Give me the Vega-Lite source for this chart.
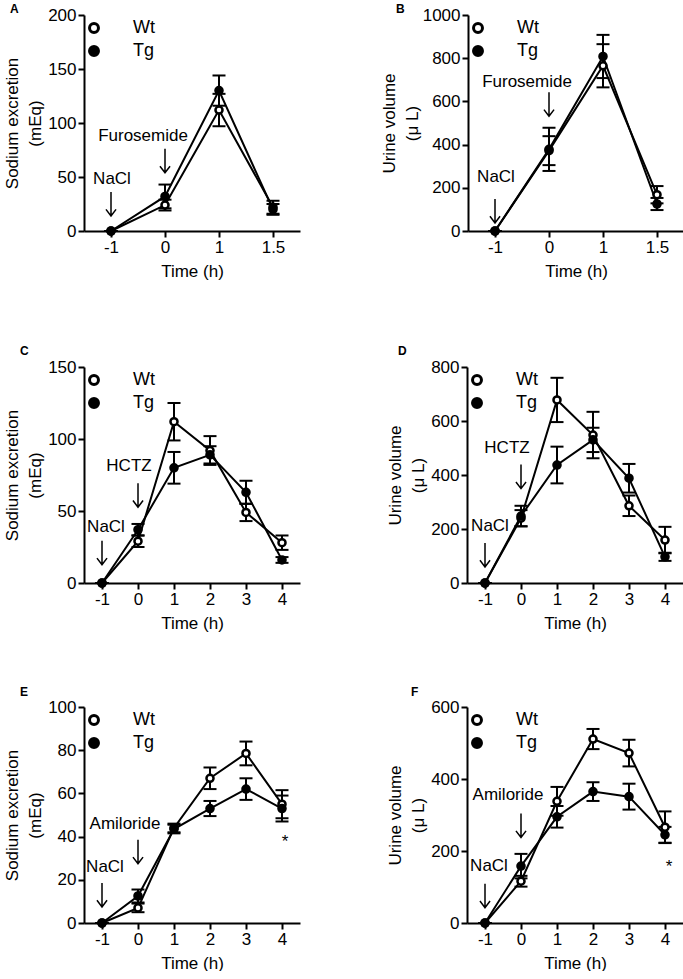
{
  "$schema": "https://vega.github.io/schema/vega-lite/v6.json",
  "padding": {"left": 3, "top": 3, "right": 0, "bottom": 0},
  "background": "white",
  "datasets": {
    "series": [
      {"panel":"A","group":"Wt","time":"-1","value":0,"sem":0},
      {"panel":"A","group":"Wt","time":"0","value":24,"sem":5},
      {"panel":"A","group":"Wt","time":"1","value":112,"sem":15},
      {"panel":"A","group":"Wt","time":"1.5","value":22,"sem":6},
      {"panel":"A","group":"Tg","time":"-1","value":0,"sem":0},
      {"panel":"A","group":"Tg","time":"0","value":32,"sem":11},
      {"panel":"A","group":"Tg","time":"1","value":130,"sem":14},
      {"panel":"A","group":"Tg","time":"1.5","value":20,"sem":5},
      {"panel":"B","group":"Wt","time":"-1","value":0,"sem":0},
      {"panel":"B","group":"Wt","time":"0","value":372,"sem":67},
      {"panel":"B","group":"Wt","time":"1","value":765,"sem":100},
      {"panel":"B","group":"Wt","time":"1.5","value":168,"sem":40},
      {"panel":"B","group":"Tg","time":"-1","value":0,"sem":0},
      {"panel":"B","group":"Tg","time":"0","value":378,"sem":100},
      {"panel":"B","group":"Tg","time":"1","value":808,"sem":100},
      {"panel":"B","group":"Tg","time":"1.5","value":125,"sem":28},
      {"panel":"C","group":"Wt","time":"-1","value":0,"sem":0},
      {"panel":"C","group":"Wt","time":"0","value":29,"sem":4},
      {"panel":"C","group":"Wt","time":"1","value":112,"sem":13},
      {"panel":"C","group":"Wt","time":"2","value":92,"sem":10},
      {"panel":"C","group":"Wt","time":"3","value":49,"sem":6},
      {"panel":"C","group":"Wt","time":"4","value":28,"sem":5},
      {"panel":"C","group":"Tg","time":"-1","value":0,"sem":0},
      {"panel":"C","group":"Tg","time":"0","value":37,"sem":4},
      {"panel":"C","group":"Tg","time":"1","value":80,"sem":11},
      {"panel":"C","group":"Tg","time":"2","value":89,"sem":6},
      {"panel":"C","group":"Tg","time":"3","value":63,"sem":8},
      {"panel":"C","group":"Tg","time":"4","value":16,"sem":2},
      {"panel":"D","group":"Wt","time":"-1","value":0,"sem":0},
      {"panel":"D","group":"Wt","time":"0","value":240,"sem":30},
      {"panel":"D","group":"Wt","time":"1","value":678,"sem":82},
      {"panel":"D","group":"Wt","time":"2","value":548,"sem":86},
      {"panel":"D","group":"Wt","time":"3","value":286,"sem":38},
      {"panel":"D","group":"Wt","time":"4","value":159,"sem":49},
      {"panel":"D","group":"Tg","time":"-1","value":0,"sem":0},
      {"panel":"D","group":"Tg","time":"0","value":248,"sem":38},
      {"panel":"D","group":"Tg","time":"1","value":437,"sem":68},
      {"panel":"D","group":"Tg","time":"2","value":530,"sem":45},
      {"panel":"D","group":"Tg","time":"3","value":388,"sem":53},
      {"panel":"D","group":"Tg","time":"4","value":97,"sem":15},
      {"panel":"E","group":"Wt","time":"-1","value":0,"sem":0},
      {"panel":"E","group":"Wt","time":"0","value":7,"sem":2},
      {"panel":"E","group":"Wt","time":"1","value":44,"sem":2},
      {"panel":"E","group":"Wt","time":"2","value":67,"sem":5},
      {"panel":"E","group":"Wt","time":"3","value":78.5,"sem":5.5},
      {"panel":"E","group":"Wt","time":"4","value":55,"sem":6.5},
      {"panel":"E","group":"Tg","time":"-1","value":0,"sem":0},
      {"panel":"E","group":"Tg","time":"0","value":12.5,"sem":3},
      {"panel":"E","group":"Tg","time":"1","value":43.5,"sem":2},
      {"panel":"E","group":"Tg","time":"2","value":53,"sem":3.5},
      {"panel":"E","group":"Tg","time":"3","value":62,"sem":5},
      {"panel":"E","group":"Tg","time":"4","value":53,"sem":6},
      {"panel":"F","group":"Wt","time":"-1","value":0,"sem":0},
      {"panel":"F","group":"Wt","time":"0","value":116,"sem":15},
      {"panel":"F","group":"Wt","time":"1","value":338,"sem":40},
      {"panel":"F","group":"Wt","time":"2","value":511,"sem":28},
      {"panel":"F","group":"Wt","time":"3","value":472,"sem":37},
      {"panel":"F","group":"Wt","time":"4","value":266,"sem":44},
      {"panel":"F","group":"Tg","time":"-1","value":0,"sem":0},
      {"panel":"F","group":"Tg","time":"0","value":158,"sem":34},
      {"panel":"F","group":"Tg","time":"1","value":295,"sem":30},
      {"panel":"F","group":"Tg","time":"2","value":365,"sem":26},
      {"panel":"F","group":"Tg","time":"3","value":351,"sem":36},
      {"panel":"F","group":"Tg","time":"4","value":245,"sem":22}
    ],
    "notes": [
      {"panel":"A","kind":"salt","time":"-1","value":48,"label":"NaCl"},
      {"panel":"A","kind":"drug","time":"0","value":88,"label":"Furosemide"},
      {"panel":"B","kind":"salt","time":"-1","value":252,"label":"NaCl"},
      {"panel":"B","kind":"drug","time":"0","value":688,"label":"Furosemide"},
      {"panel":"C","kind":"salt","time":"-1","value":39,"label":"NaCl"},
      {"panel":"C","kind":"drug","time":"0","value":81,"label":"HCTZ"},
      {"panel":"D","kind":"salt","time":"-1","value":211,"label":"NaCl"},
      {"panel":"D","kind":"drug","time":"0","value":499,"label":"HCTZ"},
      {"panel":"E","kind":"salt","time":"-1","value":26,"label":"NaCl"},
      {"panel":"E","kind":"drug","time":"0","value":46,"label":"Amiloride"},
      {"panel":"E","kind":"star","time":"4","value":37.5,"label":"*"},
      {"panel":"F","kind":"salt","time":"-1","value":158,"label":"NaCl"},
      {"panel":"F","kind":"drug","time":"0","value":355,"label":"Amiloride"},
      {"panel":"F","kind":"star","time":"4","value":156,"label":"*"}
    ],
    "arrows": [
      {"panel":"A","time":"-1","value":25},
      {"panel":"A","time":"0","value":65},
      {"panel":"B","time":"-1","value":93},
      {"panel":"B","time":"0","value":587},
      {"panel":"C","time":"-1","value":21},
      {"panel":"C","time":"0","value":61},
      {"panel":"D","time":"-1","value":104},
      {"panel":"D","time":"0","value":394},
      {"panel":"E","time":"-1","value":13},
      {"panel":"E","time":"0","value":33},
      {"panel":"F","time":"-1","value":76},
      {"panel":"F","time":"0","value":271}
    ]
  },
  "bounds": "flush",
  "spacing": 352,
  "resolve": {"scale": {"x": "independent", "y": "independent", "fill": "independent"}, "legend": {"fill": "independent"}, "axis": {"x": "independent", "y": "independent"}},
  "vconcat": [
    {
      "hconcat": [
        {
          "width": 216, "height": 216,
          "title": {"text": "A", "dx": -74, "offset": -10},
          "encoding": {
            "x": {"field": "time", "type": "ordinal", "scale": {"type": "point", "domain": ["-1","0","1","1.5"], "padding": 0.5}, "axis": {"title": "Time (h)"}},
            "y": {"field": "value", "type": "quantitative", "scale": {"domain": [0, 200], "nice": false}, "axis": {"title": ["Sodium excretion", "(mEq)"], "values": [0, 50, 100, 150, 200], "format": "d"}}
          },
          "layer": [
            {"data": {"name": "series"}, "transform": [{"filter": "datum.panel === 'A'"}], "mark": {"type": "line", "color": "black", "strokeWidth": 2}, "encoding": {"detail": {"field": "group"}}},
            {"data": {"name": "series"}, "transform": [{"filter": "datum.panel === 'A'"}], "mark": {"type": "errorbar", "color": "black", "opacity": 1, "ticks": {"opacity": 1, "color": "black"}, "size": 13, "thickness": 2}, "encoding": {"yError": {"field": "sem"}, "detail": {"field": "group"}}},
            {"data": {"name": "series"}, "transform": [{"filter": "datum.panel === 'A'"}], "mark": {"type": "point", "shape": "circle", "filled": true, "size": 50, "stroke": "black", "strokeWidth": 2.5, "opacity": 1}, "encoding": {"fill": {"field": "group", "type": "nominal", "scale": {"domain": ["Wt", "Tg"], "range": ["white", "black"]}, "legend": {"title": null, "orient": "none", "legendX": 1, "legendY": 4, "labelFontSize": 18, "symbolSize": 80, "symbolStrokeWidth": 3, "symbolStrokeColor": "black", "symbolType": "circle", "labelOffset": 30, "rowPadding": 1, "padding": 0}}}},
            {"data": {"name": "notes"}, "transform": [{"filter": "datum.panel === 'A' && datum.kind !== 'drug'"}], "mark": {"type": "text", "fontSize": 17, "color": "black", "dx": 1}, "encoding": {"text": {"field": "label"}}},
            {"data": {"name": "notes"}, "transform": [{"filter": "datum.panel === 'A' && datum.kind === 'drug'"}], "mark": {"type": "text", "fontSize": 17, "color": "black", "dx": -22}, "encoding": {"text": {"field": "label"}}},
            {"data": {"name": "arrows"}, "transform": [{"filter": "datum.panel === 'A'"}], "mark": {"type": "point", "shape": "M0,-1L0,1M-0.42,0.45L0,1L0.42,0.45", "size": 576, "filled": false, "stroke": "black", "strokeWidth": 1.5, "opacity": 1}, "encoding": {}}
          ]
        },
        {
          "width": 216, "height": 216,
          "title": {"text": "B", "dx": -72, "offset": -10},
          "encoding": {
            "x": {"field": "time", "type": "ordinal", "scale": {"type": "point", "domain": ["-1","0","1","1.5"], "padding": 0.5}, "axis": {"title": "Time (h)"}},
            "y": {"field": "value", "type": "quantitative", "scale": {"domain": [0, 1000], "nice": false}, "axis": {"title": ["Urine volume", "(μ L)"], "values": [0, 200, 400, 600, 800, 1000], "format": "d", "titlePadding": 1}}
          },
          "layer": [
            {"data": {"name": "series"}, "transform": [{"filter": "datum.panel === 'B'"}], "mark": {"type": "line", "color": "black", "strokeWidth": 2}, "encoding": {"detail": {"field": "group"}}},
            {"data": {"name": "series"}, "transform": [{"filter": "datum.panel === 'B'"}], "mark": {"type": "errorbar", "color": "black", "opacity": 1, "ticks": {"opacity": 1, "color": "black"}, "size": 13, "thickness": 2}, "encoding": {"yError": {"field": "sem"}, "detail": {"field": "group"}}},
            {"data": {"name": "series"}, "transform": [{"filter": "datum.panel === 'B'"}], "mark": {"type": "point", "shape": "circle", "filled": true, "size": 50, "stroke": "black", "strokeWidth": 2.5, "opacity": 1}, "encoding": {"fill": {"field": "group", "type": "nominal", "scale": {"domain": ["Wt", "Tg"], "range": ["white", "black"]}, "legend": {"title": null, "orient": "none", "legendX": 1, "legendY": 4, "labelFontSize": 18, "symbolSize": 80, "symbolStrokeWidth": 3, "symbolStrokeColor": "black", "symbolType": "circle", "labelOffset": 30, "rowPadding": 1, "padding": 0}}}},
            {"data": {"name": "notes"}, "transform": [{"filter": "datum.panel === 'B' && datum.kind !== 'drug'"}], "mark": {"type": "text", "fontSize": 17, "color": "black", "dx": 1}, "encoding": {"text": {"field": "label"}}},
            {"data": {"name": "notes"}, "transform": [{"filter": "datum.panel === 'B' && datum.kind === 'drug'"}], "mark": {"type": "text", "fontSize": 17, "color": "black", "dx": -22}, "encoding": {"text": {"field": "label"}}},
            {"data": {"name": "arrows"}, "transform": [{"filter": "datum.panel === 'B'"}], "mark": {"type": "point", "shape": "M0,-1L0,1M-0.42,0.45L0,1L0.42,0.45", "size": 576, "filled": false, "stroke": "black", "strokeWidth": 1.5, "opacity": 1}, "encoding": {}}
          ]
        }
      ],
      "spacing": 168,
      "bounds": "flush",
      "resolve": {"scale": {"x": "independent", "y": "independent", "fill": "independent"}, "legend": {"fill": "independent"}, "axis": {"x": "independent", "y": "independent"}}
    },
    {
      "vconcat": [
        {
          "hconcat": [
            {
              "width": 216, "height": 216,
              "title": {"text": "C", "dx": -64, "offset": 0},
              "encoding": {
                "x": {"field": "time", "type": "ordinal", "scale": {"type": "point", "domain": ["-1","0","1","2","3","4"], "padding": 0.5}, "axis": {"title": "Time (h)"}},
                "y": {"field": "value", "type": "quantitative", "scale": {"domain": [0, 150], "nice": false}, "axis": {"title": ["Sodium excretion", "(mEq)"], "values": [0, 50, 100, 150], "format": "d"}}
              },
              "layer": [
                {"data": {"name": "series"}, "transform": [{"filter": "datum.panel === 'C'"}], "mark": {"type": "line", "color": "black", "strokeWidth": 2}, "encoding": {"detail": {"field": "group"}}},
                {"data": {"name": "series"}, "transform": [{"filter": "datum.panel === 'C'"}], "mark": {"type": "errorbar", "color": "black", "opacity": 1, "ticks": {"opacity": 1, "color": "black"}, "size": 13, "thickness": 2}, "encoding": {"yError": {"field": "sem"}, "detail": {"field": "group"}}},
                {"data": {"name": "series"}, "transform": [{"filter": "datum.panel === 'C'"}], "mark": {"type": "point", "shape": "circle", "filled": true, "size": 50, "stroke": "black", "strokeWidth": 2.5, "opacity": 1}, "encoding": {"fill": {"field": "group", "type": "nominal", "scale": {"domain": ["Wt", "Tg"], "range": ["white", "black"]}, "legend": {"title": null, "orient": "none", "legendX": 1, "legendY": 4, "labelFontSize": 18, "symbolSize": 80, "symbolStrokeWidth": 3, "symbolStrokeColor": "black", "symbolType": "circle", "labelOffset": 30, "rowPadding": 1, "padding": 0}}}},
                {"data": {"name": "notes"}, "transform": [{"filter": "datum.panel === 'C' && datum.kind !== 'drug'"}], "mark": {"type": "text", "fontSize": 17, "color": "black", "dx": 4}, "encoding": {"text": {"field": "label"}}},
                {"data": {"name": "notes"}, "transform": [{"filter": "datum.panel === 'C' && datum.kind === 'drug'"}], "mark": {"type": "text", "fontSize": 17, "color": "black", "dx": -9}, "encoding": {"text": {"field": "label"}}},
                {"data": {"name": "arrows"}, "transform": [{"filter": "datum.panel === 'C'"}], "mark": {"type": "point", "shape": "M0,-1L0,1M-0.42,0.45L0,1L0.42,0.45", "size": 576, "filled": false, "stroke": "black", "strokeWidth": 1.5, "opacity": 1}, "encoding": {}}
              ]
            },
            {
              "width": 216, "height": 216,
              "title": {"text": "D", "dx": -69, "offset": 0},
              "encoding": {
                "x": {"field": "time", "type": "ordinal", "scale": {"type": "point", "domain": ["-1","0","1","2","3","4"], "padding": 0.5}, "axis": {"title": "Time (h)"}},
                "y": {"field": "value", "type": "quantitative", "scale": {"domain": [0, 800], "nice": false}, "axis": {"title": ["Urine volume", "(μ L)"], "values": [0, 200, 400, 600, 800], "format": "d"}}
              },
              "layer": [
                {"data": {"name": "series"}, "transform": [{"filter": "datum.panel === 'D'"}], "mark": {"type": "line", "color": "black", "strokeWidth": 2}, "encoding": {"detail": {"field": "group"}}},
                {"data": {"name": "series"}, "transform": [{"filter": "datum.panel === 'D'"}], "mark": {"type": "errorbar", "color": "black", "opacity": 1, "ticks": {"opacity": 1, "color": "black"}, "size": 13, "thickness": 2}, "encoding": {"yError": {"field": "sem"}, "detail": {"field": "group"}}},
                {"data": {"name": "series"}, "transform": [{"filter": "datum.panel === 'D'"}], "mark": {"type": "point", "shape": "circle", "filled": true, "size": 50, "stroke": "black", "strokeWidth": 2.5, "opacity": 1}, "encoding": {"fill": {"field": "group", "type": "nominal", "scale": {"domain": ["Wt", "Tg"], "range": ["white", "black"]}, "legend": {"title": null, "orient": "none", "legendX": 1, "legendY": 4, "labelFontSize": 18, "symbolSize": 80, "symbolStrokeWidth": 3, "symbolStrokeColor": "black", "symbolType": "circle", "labelOffset": 30, "rowPadding": 1, "padding": 0}}}},
                {"data": {"name": "notes"}, "transform": [{"filter": "datum.panel === 'D' && datum.kind !== 'drug'"}], "mark": {"type": "text", "fontSize": 17, "color": "black", "dx": 5}, "encoding": {"text": {"field": "label"}}},
                {"data": {"name": "notes"}, "transform": [{"filter": "datum.panel === 'D' && datum.kind === 'drug'"}], "mark": {"type": "text", "fontSize": 17, "color": "black", "dx": -14}, "encoding": {"text": {"field": "label"}}},
                {"data": {"name": "arrows"}, "transform": [{"filter": "datum.panel === 'D'"}], "mark": {"type": "point", "shape": "M0,-1L0,1M-0.42,0.45L0,1L0.42,0.45", "size": 576, "filled": false, "stroke": "black", "strokeWidth": 1.5, "opacity": 1}, "encoding": {}}
              ]
            }
          ],
          "spacing": 167,
          "bounds": "flush",
          "resolve": {"scale": {"x": "independent", "y": "independent", "fill": "independent"}, "legend": {"fill": "independent"}, "axis": {"x": "independent", "y": "independent"}}
        },
        {
          "hconcat": [
            {
              "width": 216, "height": 216,
              "title": {"text": "E", "dx": -64, "offset": -1},
              "encoding": {
                "x": {"field": "time", "type": "ordinal", "scale": {"type": "point", "domain": ["-1","0","1","2","3","4"], "padding": 0.5}, "axis": {"title": "Time (h)"}},
                "y": {"field": "value", "type": "quantitative", "scale": {"domain": [0, 100], "nice": false}, "axis": {"title": ["Sodium excretion", "(mEq)"], "values": [0, 20, 40, 60, 80, 100], "format": "d"}}
              },
              "layer": [
                {"data": {"name": "series"}, "transform": [{"filter": "datum.panel === 'E'"}], "mark": {"type": "line", "color": "black", "strokeWidth": 2}, "encoding": {"detail": {"field": "group"}}},
                {"data": {"name": "series"}, "transform": [{"filter": "datum.panel === 'E'"}], "mark": {"type": "errorbar", "color": "black", "opacity": 1, "ticks": {"opacity": 1, "color": "black"}, "size": 13, "thickness": 2}, "encoding": {"yError": {"field": "sem"}, "detail": {"field": "group"}}},
                {"data": {"name": "series"}, "transform": [{"filter": "datum.panel === 'E'"}], "mark": {"type": "point", "shape": "circle", "filled": true, "size": 50, "stroke": "black", "strokeWidth": 2.5, "opacity": 1}, "encoding": {"fill": {"field": "group", "type": "nominal", "scale": {"domain": ["Wt", "Tg"], "range": ["white", "black"]}, "legend": {"title": null, "orient": "none", "legendX": 1, "legendY": 4, "labelFontSize": 18, "symbolSize": 80, "symbolStrokeWidth": 3, "symbolStrokeColor": "black", "symbolType": "circle", "labelOffset": 30, "rowPadding": 1, "padding": 0}}}},
                {"data": {"name": "notes"}, "transform": [{"filter": "datum.panel === 'E' && datum.kind !== 'drug'"}], "mark": {"type": "text", "fontSize": 17, "color": "black", "dx": 3}, "encoding": {"text": {"field": "label"}}},
                {"data": {"name": "notes"}, "transform": [{"filter": "datum.panel === 'E' && datum.kind === 'drug'"}], "mark": {"type": "text", "fontSize": 17, "color": "black", "dx": -13}, "encoding": {"text": {"field": "label"}}},
                {"data": {"name": "arrows"}, "transform": [{"filter": "datum.panel === 'E'"}], "mark": {"type": "point", "shape": "M0,-1L0,1M-0.42,0.45L0,1L0.42,0.45", "size": 576, "filled": false, "stroke": "black", "strokeWidth": 1.5, "opacity": 1}, "encoding": {}}
              ]
            },
            {
              "width": 216, "height": 216,
              "title": {"text": "F", "dx": -56, "offset": -1},
              "encoding": {
                "x": {"field": "time", "type": "ordinal", "scale": {"type": "point", "domain": ["-1","0","1","2","3","4"], "padding": 0.5}, "axis": {"title": "Time (h)"}},
                "y": {"field": "value", "type": "quantitative", "scale": {"domain": [0, 600], "nice": false}, "axis": {"title": ["Urine volume", "(μ L)"], "values": [0, 200, 400, 600], "format": "d"}}
              },
              "layer": [
                {"data": {"name": "series"}, "transform": [{"filter": "datum.panel === 'F'"}], "mark": {"type": "line", "color": "black", "strokeWidth": 2}, "encoding": {"detail": {"field": "group"}}},
                {"data": {"name": "series"}, "transform": [{"filter": "datum.panel === 'F'"}], "mark": {"type": "errorbar", "color": "black", "opacity": 1, "ticks": {"opacity": 1, "color": "black"}, "size": 13, "thickness": 2}, "encoding": {"yError": {"field": "sem"}, "detail": {"field": "group"}}},
                {"data": {"name": "series"}, "transform": [{"filter": "datum.panel === 'F'"}], "mark": {"type": "point", "shape": "circle", "filled": true, "size": 50, "stroke": "black", "strokeWidth": 2.5, "opacity": 1}, "encoding": {"fill": {"field": "group", "type": "nominal", "scale": {"domain": ["Wt", "Tg"], "range": ["white", "black"]}, "legend": {"title": null, "orient": "none", "legendX": 1, "legendY": 4, "labelFontSize": 18, "symbolSize": 80, "symbolStrokeWidth": 3, "symbolStrokeColor": "black", "symbolType": "circle", "labelOffset": 30, "rowPadding": 1, "padding": 0}}}},
                {"data": {"name": "notes"}, "transform": [{"filter": "datum.panel === 'F' && datum.kind !== 'drug'"}], "mark": {"type": "text", "fontSize": 17, "color": "black", "dx": 4}, "encoding": {"text": {"field": "label"}}},
                {"data": {"name": "notes"}, "transform": [{"filter": "datum.panel === 'F' && datum.kind === 'drug'"}], "mark": {"type": "text", "fontSize": 17, "color": "black", "dx": -13}, "encoding": {"text": {"field": "label"}}},
                {"data": {"name": "arrows"}, "transform": [{"filter": "datum.panel === 'F'"}], "mark": {"type": "point", "shape": "M0,-1L0,1M-0.42,0.45L0,1L0.42,0.45", "size": 576, "filled": false, "stroke": "black", "strokeWidth": 1.5, "opacity": 1}, "encoding": {}}
              ]
            }
          ],
          "spacing": 167,
          "bounds": "flush",
          "resolve": {"scale": {"x": "independent", "y": "independent", "fill": "independent"}, "legend": {"fill": "independent"}, "axis": {"x": "independent", "y": "independent"}}
        }
      ],
      "spacing": 340,
      "bounds": "flush",
      "resolve": {"scale": {"x": "independent", "y": "independent", "fill": "independent"}, "legend": {"fill": "independent"}, "axis": {"x": "independent", "y": "independent"}}
    }
  ],
  "config": {
    "font": "Liberation Sans",
    "view": {"stroke": null},
    "axis": {"domainColor": "black", "domainWidth": 2, "tickColor": "black", "tickWidth": 2, "tickSize": 6, "labelFontSize": 17, "labelColor": "black", "labelPadding": 2, "titleFontSize": 17, "titleFontWeight": "normal", "titleColor": "black", "grid": false, "labelFont": "Liberation Sans", "titleFont": "Liberation Sans"},
    "axisX": {"labelAngle": 0, "titlePadding": 8},
    "axisY": {"titleLineHeight": 23, "titlePadding": 3, "labelFlush": false},
    "title": {"fontSize": 12, "fontWeight": "bold", "anchor": "start", "frame": "group", "color": "black", "font": "Liberation Sans"},
    "legend": {"labelColor": "black", "labelFont": "Liberation Sans"},
    "tick": {"opacity": 1},
    "rule": {"opacity": 1}
  }
}
